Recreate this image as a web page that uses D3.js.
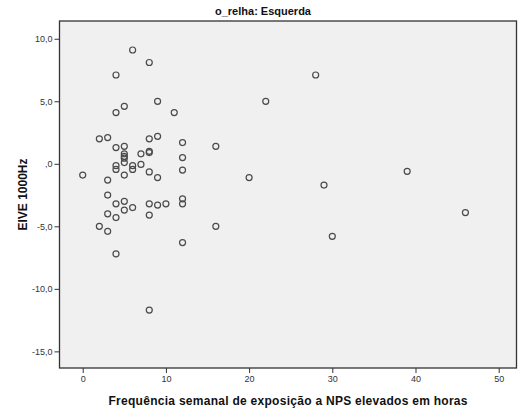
<!DOCTYPE html>
<html>
<head>
<meta charset="utf-8">
<script src="https://cdn.jsdelivr.net/npm/d3@7"></script>
<style>
  html, body { margin: 0; padding: 0; background: #ffffff; }
  svg { display: block; }
</style>
</head>
<body>
<svg id="chart" width="520" height="414"></svg>
<script>
const title = "o_relha: Esquerda";
const xLabel = "Frequência semanal de exposição a NPS elevados em horas";
const yLabel = "EIVE 1000Hz";

const hours = [6, 8, 4, 9, 5, 4, 11, 28, 22, 2, 3, 4, 5, 5, 5, 5, 5, 8, 9, 7,
  8, 8, 12, 12, 12, 0, 3, 4, 4, 6, 6, 7, 5, 8, 9, 16, 20, 3, 4, 5,
  5, 6, 3, 4, 8, 9, 10, 8, 12, 12, 2, 3, 12, 4, 16, 29, 39, 46, 30, 8];
const eive = [9.1, 8.1, 7.1, 5.0, 4.6, 4.1, 4.1, 7.1, 5.0, 2.0, 2.1, 1.3, 1.4, 0.8, 0.6, 0.45, 0.1, 2.0, 2.2, 0.8,
  1.0, 0.9, 1.7, 0.5, -0.5, -0.9, -1.3, -0.15, -0.45, -0.15, -0.45, -0.05, -0.9, -0.65, -1.1, 1.4, -1.1, -2.5, -3.2, -3.0,
  -3.7, -3.5, -4.0, -4.3, -3.2, -3.3, -3.2, -4.1, -2.8, -3.2, -5.0, -5.4, -6.3, -7.2, -5.0, -1.7, -0.6, -3.9, -5.8, -11.7];

const xTicks = [0, 10, 20, 30, 40, 50];
const xTickLabels = ["0", "10", "20", "30", "40", "50"];
const yTicks = [-15, -10, -5, 0, 5, 10];
const yTickLabels = ["-15,0", "-10,0", "-5,0", ",0", "5,0", "10,0"];

const svg = d3.select("#chart");
const pLeft = 59.5, pRight = 516.5, pTop = 21, pBottom = 368;

const x = d3.scaleLinear().domain([-2.79, 52.14]).range([pLeft, pRight]);
const y = d3.scaleLinear().domain([-16.33, 11.42]).range([pBottom, pTop]);

svg.append("rect")
  .attr("x", pLeft).attr("y", pTop)
  .attr("width", pRight - pLeft).attr("height", pBottom - pTop)
  .attr("fill", "#f0f0f0");

const font = "'Liberation Sans', Arial, sans-serif";

const gx = svg.append("g")
  .attr("transform", `translate(0,${pBottom})`)
  .call(d3.axisBottom(x).tickValues(xTicks)
    .tickFormat((d, i) => xTickLabels[i]).tickSize(5).tickPadding(3));
gx.select(".domain").remove();

const gy = svg.append("g")
  .attr("transform", `translate(${pLeft},0)`)
  .call(d3.axisLeft(y).tickValues(yTicks)
    .tickFormat((d, i) => yTickLabels[i]).tickSize(5).tickPadding(2));
gy.select(".domain").remove();

[gx, gy].forEach(g => {
  g.selectAll("line").attr("stroke", "#333").attr("stroke-width", 1);
  g.selectAll("text").attr("fill", "#333").style("font-family", font).style("font-size", "9px");
});

svg.append("rect")
  .attr("x", pLeft).attr("y", pTop)
  .attr("width", pRight - pLeft).attr("height", pBottom - pTop)
  .attr("fill", "none").attr("stroke", "#333").attr("stroke-width", 1.3);

svg.append("g").selectAll("circle")
  .data(hours.map((h, i) => [h, eive[i]]))
  .join("circle")
  .attr("cx", d => x(d[0]))
  .attr("cy", d => y(d[1]))
  .attr("r", 3)
  .attr("fill", "none")
  .attr("stroke", "#4a4a4a")
  .attr("stroke-width", 1.2);

svg.append("text")
  .attr("x", 263).attr("y", 15)
  .attr("text-anchor", "middle")
  .style("font-family", font).style("font-weight", "bold").style("font-size", "11px")
  .attr("fill", "#111")
  .text(title);

svg.append("text")
  .attr("x", (pLeft + pRight) / 2).attr("y", 405)
  .attr("text-anchor", "middle")
  .attr("textLength", 359).attr("lengthAdjust", "spacing")
  .style("font-family", font).style("font-weight", "bold").style("font-size", "12px")
  .attr("fill", "#111")
  .text(xLabel);

svg.append("text")
  .attr("transform", `translate(27,${(pTop + pBottom) / 2}) rotate(-90)`)
  .attr("text-anchor", "middle")
  .style("font-family", font).style("font-weight", "bold").style("font-size", "12px")
  .attr("fill", "#111")
  .text(yLabel);
</script>
</body>
</html>
